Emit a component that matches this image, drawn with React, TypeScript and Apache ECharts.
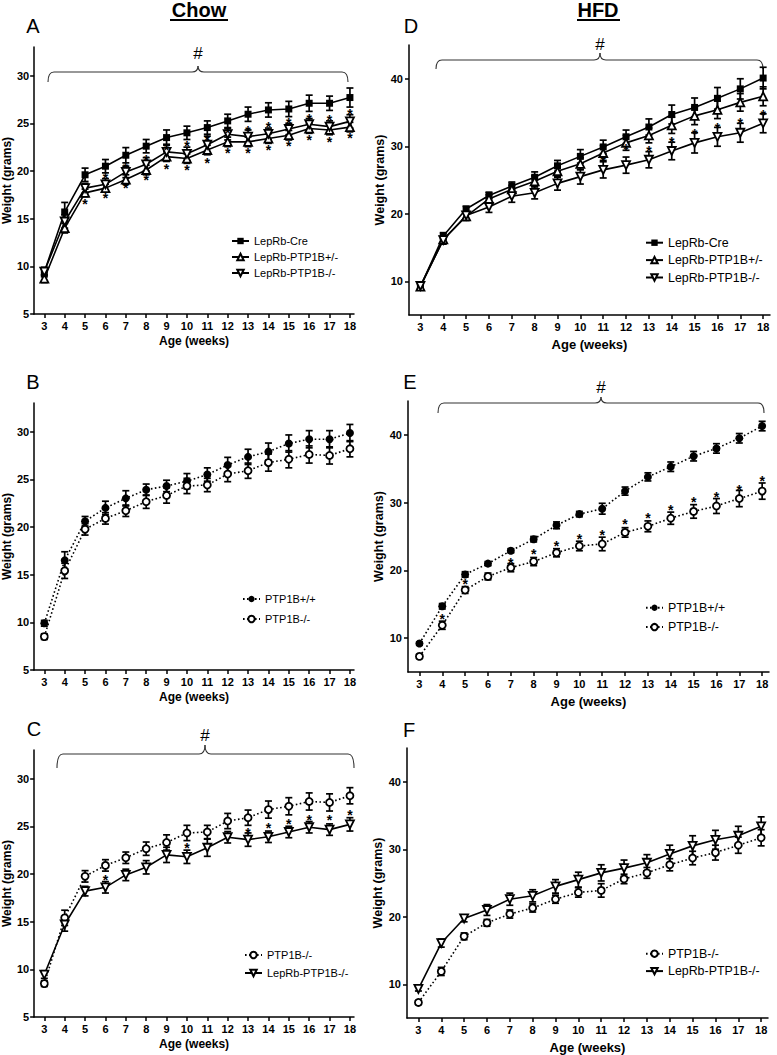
import React, { useEffect, useRef } from 'react';
import * as echarts from 'echarts';

const FONT = 'Arial, "Liberation Sans", Helvetica, sans-serif';

const weeks = [3, 4, 5, 6, 7, 8, 9, 10, 11, 12, 13, 14, 15, 16, 17, 18];
const chowTicks = [5, 10, 15, 20, 25, 30];
const hfdTicks = [10, 20, 30, 40];

// ---- Chow diet ----
const chowCre = [9.4, 15.7, 19.6, 20.5, 21.65, 22.6, 23.5, 24.0, 24.55, 25.25, 25.95, 26.4, 26.5, 27.1, 27.1, 27.7];
const chowCreErr = [0.5, 1.0, 0.7, 0.7, 0.8, 0.7, 0.8, 0.7, 0.7, 0.7, 0.75, 0.75, 0.8, 0.85, 0.75, 1.0];
const chowHet = [8.7, 14.0, 17.7, 18.2, 19.1, 20.1, 21.5, 21.3, 22.2, 23.05, 23.05, 23.4, 23.75, 24.45, 24.3, 24.6];
const chowHetErr = [0.4, 0.5, 0.4, 0.4, 0.5, 0.5, 0.5, 0.5, 0.5, 0.5, 0.5, 0.5, 0.5, 0.5, 0.5, 0.5];
const chowLepKO = [9.45, 14.7, 18.2, 18.6, 19.9, 20.7, 22.0, 21.8, 22.75, 23.85, 23.6, 23.9, 24.4, 24.9, 24.65, 25.2];
const chowLepKOErr = [0.4, 0.7, 0.5, 0.6, 0.6, 0.7, 0.8, 0.7, 0.9, 0.6, 0.7, 0.6, 0.6, 0.6, 0.6, 0.7];
const chowWT = [9.9, 16.5, 20.6, 22.0, 23.0, 23.9, 24.3, 24.8, 25.5, 26.5, 27.35, 27.9, 28.75, 29.2, 29.2, 29.85];
const chowWTErr = [0.3, 0.9, 0.5, 0.7, 0.8, 0.6, 0.6, 0.8, 0.7, 0.8, 0.8, 0.9, 0.9, 0.9, 0.9, 0.9];
const chowKO = [8.5, 15.4, 19.75, 20.9, 21.7, 22.65, 23.3, 24.3, 24.4, 25.55, 25.9, 26.75, 27.1, 27.6, 27.5, 28.2];
const chowKOErr = [0.3, 0.8, 0.6, 0.6, 0.6, 0.7, 0.8, 0.8, 0.7, 0.8, 0.8, 0.9, 0.9, 0.9, 0.9, 0.85];

// ---- High-fat diet ----
const hfdCre = [9.2, 16.7, 20.7, 22.7, 24.1, 25.4, 27.1, 28.5, 29.9, 31.4, 32.85, 34.7, 35.75, 37.1, 38.5, 40.1];
const hfdCreErr = [0.3, 0.5, 0.4, 0.5, 0.6, 0.8, 0.8, 1.0, 1.0, 1.0, 1.2, 1.4, 1.4, 1.6, 1.5, 1.6];
const hfdHet = [9.2, 16.2, 19.6, 22.2, 23.6, 24.8, 26.3, 27.4, 29.0, 30.5, 31.6, 33.1, 34.5, 35.4, 36.5, 37.4];
const hfdHetErr = [0.3, 0.5, 0.6, 0.6, 0.6, 0.8, 0.9, 0.9, 1.1, 1.1, 1.1, 1.2, 1.3, 1.3, 1.3, 1.4];
const hfdLepKO = [9.3, 16.1, 19.75, 21.0, 22.6, 23.1, 24.5, 25.5, 26.5, 27.2, 28.0, 29.3, 30.5, 31.4, 32.0, 33.4];
const hfdLepKOErr = [0.3, 0.6, 0.5, 0.8, 0.9, 0.9, 1.0, 1.1, 1.2, 1.2, 1.2, 1.3, 1.5, 1.4, 1.4, 1.4];
const hfdWT = [9.2, 14.7, 19.4, 21.0, 22.9, 24.6, 26.65, 28.3, 29.1, 31.7, 33.8, 35.3, 36.85, 38.0, 39.5, 41.3];
const hfdWTErr = [0.2, 0.4, 0.4, 0.3, 0.3, 0.4, 0.5, 0.4, 0.8, 0.6, 0.6, 0.7, 0.7, 0.7, 0.7, 0.7];
const hfdKO = [7.3, 11.9, 17.1, 19.1, 20.4, 21.3, 22.6, 23.6, 23.9, 25.6, 26.5, 27.7, 28.7, 29.5, 30.6, 31.7];
const hfdKOErr = [0.3, 0.6, 0.5, 0.5, 0.6, 0.6, 0.6, 0.7, 1.0, 0.7, 0.8, 0.9, 1.0, 1.1, 1.2, 1.2];

// ---- significance asterisks: [week, weight] ----
const starsA = [[5, 16.8], [6, 19.6], [6, 17.5], [7, 20.6], [7, 18.5], [8, 21.5], [8, 19.4], [9, 22.5], [9, 20.5], [10, 22.9], [10, 20.4], [11, 23.6], [11, 21.1], [12, 24.3], [12, 22.2], [13, 24.5], [13, 22.2], [14, 24.9], [14, 22.5], [15, 25.3], [15, 22.9], [16, 25.8], [16, 23.6], [17, 25.7], [17, 23.4], [18, 26.3], [18, 23.8]];
const starsC = [[6, 19.7], [10, 23.0], [13, 24.6], [14, 25.1], [15, 25.6], [16, 26.0], [17, 26.0], [18, 26.5]];
const starsD = [[11, 28.3], [12, 30.1], [13, 29.7], [14, 31.1], [15, 32.2], [16, 33.1], [17, 33.9], [18, 35.1]];
const starsE = [[4, 13.2], [5, 18.5], [7, 21.6], [8, 22.8], [9, 24.0], [10, 25.1], [11, 25.6], [12, 27.3], [13, 28.2], [14, 29.4], [15, 30.5], [16, 31.2], [17, 32.3], [18, 33.7]];

type Style = { symbol: string; size: number; filled: boolean; rotate?: number; dotted: boolean };
const STYLES: Record<string, Style> = {
  'LepRb-Cre': { symbol: 'rect', size: 7, filled: true, dotted: false },
  'LepRb-PTP1B+/-': { symbol: 'triangle', size: 8, filled: false, dotted: false },
  'LepRb-PTP1B-/-': { symbol: 'triangle', size: 8, filled: false, rotate: 180, dotted: false },
  'PTP1B+/+': { symbol: 'circle', size: 8, filled: true, dotted: true },
  'PTP1B-/-': { symbol: 'circle', size: 7, filled: false, dotted: true },
};

function lineSeries(name: string, vals: number[], gi: number) {
  const s = STYLES[name];
  return {
    type: 'line',
    name,
    xAxisIndex: gi,
    yAxisIndex: gi,
    z: 3,
    data: weeks.map((w, i) => [w, vals[i]]),
    symbol: s.symbol,
    symbolSize: s.size,
    symbolRotate: s.rotate || 0,
    showAllSymbol: true,
    itemStyle: {
      color: s.filled ? '#000' : '#fff',
      borderColor: '#000',
      borderWidth: s.filled ? 0 : 1.8,
    },
    lineStyle: { color: '#000', width: 1.6, type: s.dotted ? [1.6, 2.4] : 'solid' },
    emphasis: { disabled: true },
    silent: true,
  };
}

function errSeries(id: string, vals: number[], err: number[], gi: number) {
  return {
    type: 'custom',
    name: id,
    xAxisIndex: gi,
    yAxisIndex: gi,
    z: 2,
    silent: true,
    data: weeks.map((w, i) => [w, vals[i] - err[i], vals[i] + err[i]]),
    encode: { x: 0, y: [1, 2] },
    renderItem: (params: any, api: any) => {
      const x = api.value(0);
      const lo = api.coord([x, api.value(1)]);
      const hi = api.coord([x, api.value(2)]);
      const h = 3.5;
      const st = { stroke: '#000', lineWidth: 1.7 };
      return {
        type: 'group',
        children: [
          { type: 'line', shape: { x1: lo[0], y1: lo[1], x2: hi[0], y2: hi[1] }, style: st },
          { type: 'line', shape: { x1: lo[0] - h, y1: lo[1], x2: lo[0] + h, y2: lo[1] }, style: st },
          { type: 'line', shape: { x1: hi[0] - h, y1: hi[1], x2: hi[0] + h, y2: hi[1] }, style: st },
        ],
      };
    },
  };
}

function starSeries(id: string, pts: number[][], gi: number) {
  return {
    type: 'scatter',
    name: id,
    xAxisIndex: gi,
    yAxisIndex: gi,
    z: 4,
    silent: true,
    symbol: 'circle',
    symbolSize: 1,
    itemStyle: { color: 'transparent' },
    data: pts,
    label: {
      show: true,
      position: 'inside',
      formatter: '*',
      fontSize: 14,
      fontWeight: 'bold',
      fontFamily: FONT,
      color: '#000',
      textBorderWidth: 0,
      opacity: 1,
      offset: [0, 3],
    },
  };
}

function xAxisFor(gi: number, max: number, nameFs: number, nameGap: number) {
  return {
    type: 'value',
    gridIndex: gi,
    min: 2.5,
    max,
    name: 'Age (weeks)',
    nameLocation: 'middle',
    nameGap,
    nameTextStyle: { fontSize: nameFs, fontWeight: 'bold', color: '#000', fontFamily: FONT },
    axisLine: { show: true, onZero: false, lineStyle: { color: '#000', width: 1.5 } },
    axisTick: { show: true, length: 4, lineStyle: { color: '#000', width: 1.5 }, customValues: weeks },
    axisLabel: { customValues: weeks, fontSize: 11, fontWeight: 'bold', color: '#000', margin: 6, fontFamily: FONT },
    splitLine: { show: false },
  };
}

function yAxisFor(gi: number, max: number, ticks: number[], nameFs: number, margin: number) {
  return {
    type: 'value',
    gridIndex: gi,
    min: 5,
    max,
    name: 'Weight (grams)',
    nameLocation: 'middle',
    nameRotate: 90,
    nameGap: 20,
    nameTextStyle: { fontSize: nameFs, fontWeight: 'bold', color: '#000', fontFamily: FONT },
    axisLine: { show: true, onZero: false, lineStyle: { color: '#000', width: 1.5 } },
    axisTick: { show: true, length: 4, lineStyle: { color: '#000', width: 1.5 }, customValues: ticks },
    axisLabel: { customValues: ticks, fontSize: 11, fontWeight: 'bold', color: '#000', margin, fontFamily: FONT },
    splitLine: { show: false },
  };
}

function legendFor(names: string[], left: number, top: number, fs: number, gap: number) {
  return {
    data: names,
    left,
    top,
    orient: 'vertical',
    itemWidth: 17,
    itemHeight: 8,
    itemGap: gap,
    selectedMode: false,
    padding: 0,
    textStyle: { fontSize: fs, color: '#000', fontFamily: FONT, lineHeight: fs + 1 },
  };
}

function bracket(x1: number, x2: number, xm: number, y: number, yEnd: number, yPeak: number, hashY: number) {
  const st = { stroke: '#333', lineWidth: 1.1, fill: 'none' };
  const r = 6;
  return [
    { type: 'bezierCurve', shape: { x1: x1, y1: yEnd, x2: x1 + r, y2: y, cpx1: x1, cpy1: y }, style: st },
    { type: 'line', shape: { x1: x1 + r, y1: y, x2: xm - r, y2: y }, style: st },
    { type: 'bezierCurve', shape: { x1: xm - r, y1: y, x2: xm, y2: yPeak, cpx1: xm, cpy1: y }, style: st },
    { type: 'bezierCurve', shape: { x1: xm, y1: yPeak, x2: xm + r, y2: y, cpx1: xm, cpy1: y }, style: st },
    { type: 'line', shape: { x1: xm + r, y1: y, x2: x2 - r, y2: y }, style: st },
    { type: 'bezierCurve', shape: { x1: x2 - r, y1: y, x2: x2, y2: yEnd, cpx1: x2, cpy1: y }, style: st },
    {
      type: 'text',
      style: {
        text: '#', x: xm, y: hashY, fill: '#000', fontSize: 17, fontFamily: FONT,
        align: 'center', verticalAlign: 'middle', textAlign: 'center', textVerticalAlign: 'middle',
      },
    },
  ];
}

function label(text: string, x: number, y: number, fs: number, bold = false) {
  return {
    type: 'text',
    style: {
      text, x, y, fill: '#000', fontSize: fs, fontWeight: bold ? 'bold' : 'normal', fontFamily: FONT,
      align: 'center', verticalAlign: 'middle', textAlign: 'center', textVerticalAlign: 'middle',
    },
  };
}

export default function App() {
  const ref = useRef<HTMLDivElement>(null);
  useEffect(() => {
    document.body.style.margin = '0';
    if (!ref.current) return;
    const chart = echarts.init(ref.current, undefined, { renderer: 'svg' });
    const grids = [
      { left: 33, top: 47, width: 321, height: 267 },
      { left: 33, top: 403, width: 321, height: 267 },
      { left: 33, top: 750, width: 321, height: 267 },
      { left: 409, top: 45, width: 361, height: 270 },
      { left: 408, top: 401, width: 361, height: 271 },
      { left: 407, top: 748, width: 361, height: 270 },
    ];
    const option: any = {
      animation: false,
      backgroundColor: '#fff',
      grid: grids,
      xAxis: [
        xAxisFor(0, 18.2, 12, 21),
        xAxisFor(1, 18.2, 12, 21),
        xAxisFor(2, 18.2, 12, 21),
        xAxisFor(3, 18.3, 13, 23),
        xAxisFor(4, 18.3, 13, 23),
        xAxisFor(5, 18.3, 13, 23),
      ],
      yAxis: [
        yAxisFor(0, 33, chowTicks, 12, 5),
        yAxisFor(1, 33, chowTicks, 12, 5),
        yAxisFor(2, 33, chowTicks, 12, 5),
        yAxisFor(3, 45, hfdTicks, 12.5, 6),
        yAxisFor(4, 45, hfdTicks, 12.5, 6),
        yAxisFor(5, 45, hfdTicks, 12.5, 6),
      ],
      legend: [
        legendFor(['LepRb-Cre', 'LepRb-PTP1B+/-', 'LepRb-PTP1B-/-'], 231, 235, 11, 4),
        legendFor(['PTP1B+/+', 'PTP1B-/-'], 242, 593, 11, 8),
        legendFor(['PTP1B-/-', 'LepRb-PTP1B-/-'], 244, 949, 11, 6),
        legendFor(['LepRb-Cre', 'LepRb-PTP1B+/-', 'LepRb-PTP1B-/-'], 645, 236, 12.4, 4),
        legendFor(['PTP1B+/+', 'PTP1B-/-'], 645, 601, 12.4, 6),
        legendFor(['PTP1B-/-', 'LepRb-PTP1B-/-'], 645, 947, 12.4, 4),
      ],
      series: [
        // A
        errSeries('eA1', chowCre, chowCreErr, 0),
        errSeries('eA2', chowHet, chowHetErr, 0),
        errSeries('eA3', chowLepKO, chowLepKOErr, 0),
        lineSeries('LepRb-Cre', chowCre, 0),
        lineSeries('LepRb-PTP1B+/-', chowHet, 0),
        lineSeries('LepRb-PTP1B-/-', chowLepKO, 0),
        starSeries('sA', starsA, 0),
        // B
        errSeries('eB1', chowWT, chowWTErr, 1),
        errSeries('eB2', chowKO, chowKOErr, 1),
        lineSeries('PTP1B+/+', chowWT, 1),
        lineSeries('PTP1B-/-', chowKO, 1),
        // C
        errSeries('eC1', chowKO, chowKOErr, 2),
        errSeries('eC2', chowLepKO, chowLepKOErr, 2),
        lineSeries('PTP1B-/-', chowKO, 2),
        lineSeries('LepRb-PTP1B-/-', chowLepKO, 2),
        starSeries('sC', starsC, 2),
        // D
        errSeries('eD1', hfdCre, hfdCreErr, 3),
        errSeries('eD2', hfdHet, hfdHetErr, 3),
        errSeries('eD3', hfdLepKO, hfdLepKOErr, 3),
        lineSeries('LepRb-Cre', hfdCre, 3),
        lineSeries('LepRb-PTP1B+/-', hfdHet, 3),
        lineSeries('LepRb-PTP1B-/-', hfdLepKO, 3),
        starSeries('sD', starsD, 3),
        // E
        errSeries('eE1', hfdWT, hfdWTErr, 4),
        errSeries('eE2', hfdKO, hfdKOErr, 4),
        lineSeries('PTP1B+/+', hfdWT, 4),
        lineSeries('PTP1B-/-', hfdKO, 4),
        starSeries('sE', starsE, 4),
        // F
        errSeries('eF1', hfdKO, hfdKOErr, 5),
        errSeries('eF2', hfdLepKO, hfdLepKOErr, 5),
        lineSeries('PTP1B-/-', hfdKO, 5),
        lineSeries('LepRb-PTP1B-/-', hfdLepKO, 5),
      ],
      graphic: [
        label('Chow', 199, 10, 20, true),
        { type: 'line', shape: { x1: 170, y1: 20, x2: 228, y2: 20 }, style: { stroke: '#000', lineWidth: 2 } },
        label('HFD', 598, 10, 20, true),
        { type: 'line', shape: { x1: 577, y1: 20, x2: 620, y2: 20 }, style: { stroke: '#000', lineWidth: 2 } },
        label('A', 33, 26, 20),
        label('D', 411, 26, 20),
        label('B', 33, 382, 20),
        label('E', 410, 382, 20),
        label('C', 34, 729, 20),
        label('F', 409, 730, 20),
        ...bracket(48, 348, 198, 72, 82, 66, 53),
        ...bracket(436, 763, 600, 60, 69, 53, 44),
        ...bracket(438, 764, 601, 403, 413, 397, 387),
        ...bracket(57, 354, 205, 754, 768, 745, 735),
      ],
    };
    chart.setOption(option);
    return () => chart.dispose();
  }, []);
  return <div ref={ref} style={{ position: 'absolute', left: 0, top: 0, width: 777, height: 1055 }} />;
}
